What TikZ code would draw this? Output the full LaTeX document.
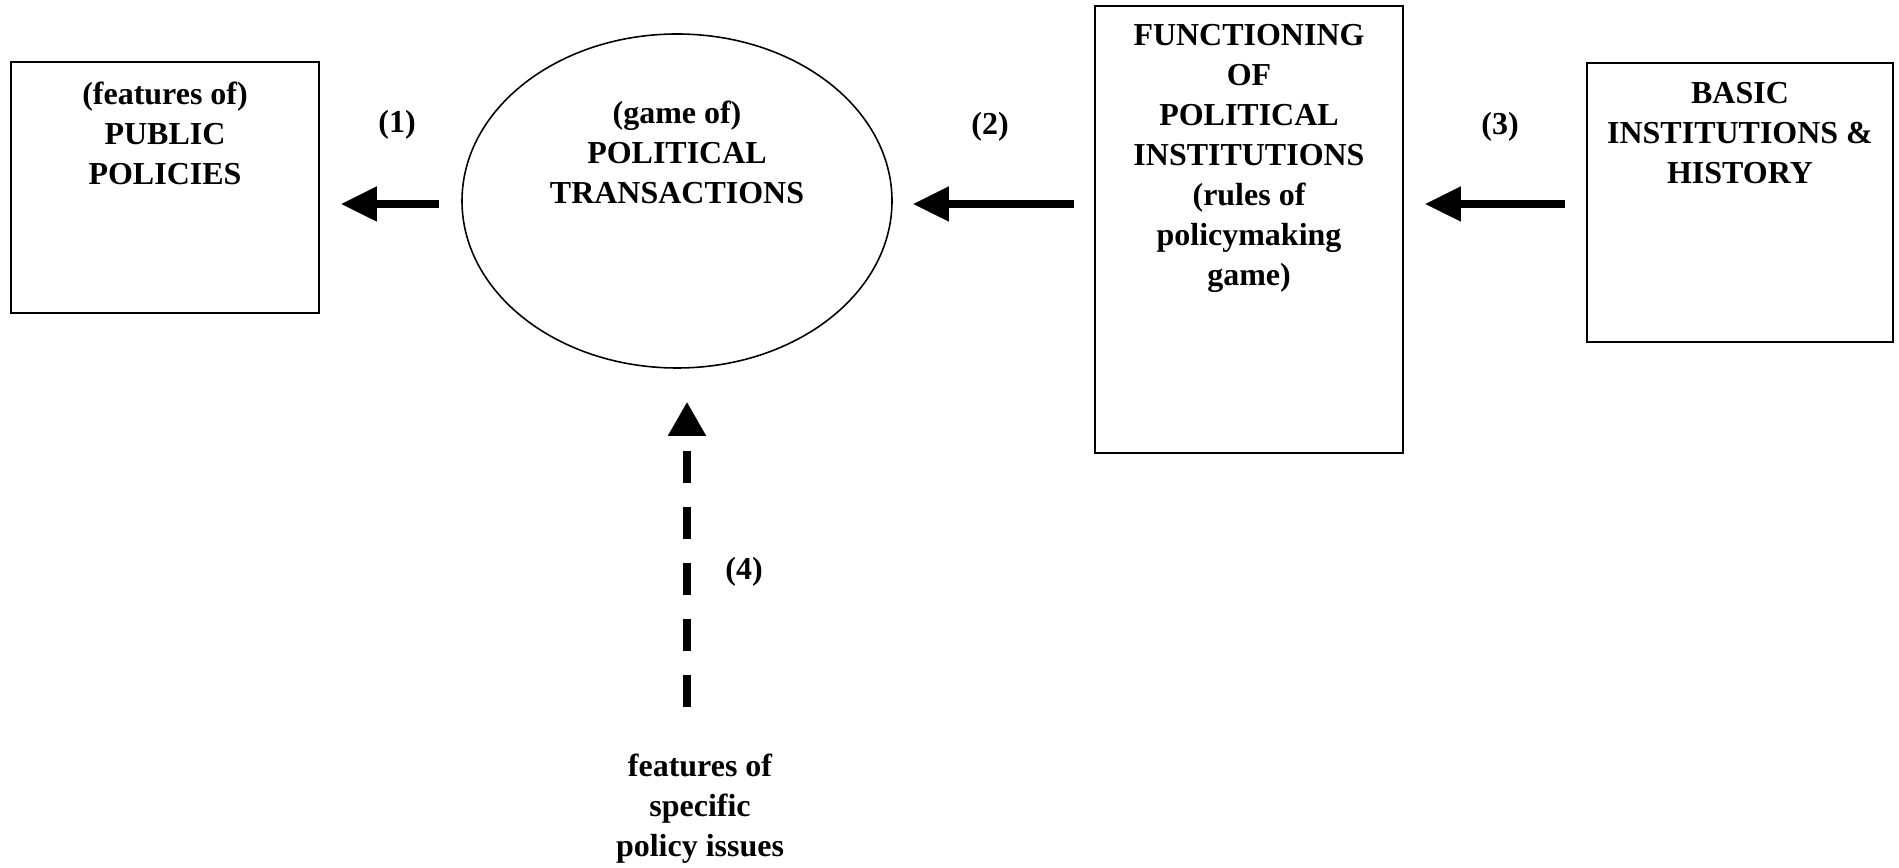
\documentclass[tikz,border=0pt]{standalone}
\usepackage{fontspec}
\setmainfont{Liberation Serif}
\usetikzlibrary{arrows.meta}
\usetikzlibrary{shapes.geometric}

\begin{document}
\begin{tikzpicture}[x=0.2mm,y=0.2mm,line cap=butt] %% tikz
	\tikzstyle{panel}=[rectangle,draw,line width=0.9pt,inner sep=0pt];
	\tikzstyle{oval}=[ellipse,draw,line width=0.9pt,inner sep=0pt,minimum width=8.6cm,minimum height=6.68cm];
	\tikzstyle{txt}=[align=center,font=\fontsize{18.2}{22.8}\selectfont\bfseries,inner sep=0pt];
	\tikzstyle{fat}=[line width=4.3pt,-{Triangle[length=0.72cm,width=0.66cm]}];
	\tikzstyle{broken}=[line width=4.5pt,dash pattern=on 0.64cm off 0.48cm,-{Triangle[length=0.68cm,width=0.72cm]}];
	\useasboundingbox (0,0) rectangle (1899,867);
	%% shapes
	\node[panel,minimum width=6.16cm,minimum height=5.02cm] (pub) at (165,679.5) {};
	\node[oval] (circ) at (677,666) {};
	\node[panel,minimum width=6.16cm,minimum height=8.94cm] (inst) at (1249,637.5) {};
	\node[panel,minimum width=6.12cm,minimum height=5.58cm] (hist) at (1740,664.5) {};
	%% texts
	\node[txt] (pubtxt) at (165,734) {(features of)\\PUBLIC\\POLICIES};
	\node[txt] (circtxt) at (677,715) {(game of)\\POLITICAL\\TRANSACTIONS};
	\node[txt] (insttxt) at (1249,708.5) {FUNCTIONING\\OF\\POLITICAL\\INSTITUTIONS\\(rules of\\policymaking\\game)};
	\node[txt] (histtxt) at (1740,734) {BASIC\\INSTITUTIONS \&\\HISTORY};
	\node[txt] (issues) at (700,58) {features of\\specific\\policy issues};
	\node[txt] (lab1) at (397,742) {(1)};
	\node[txt] (lab2) at (990,740) {(2)};
	\node[txt] (lab3) at (1500,740) {(3)};
	\node[txt] (lab4) at (744,295) {(4)};
	%% arrows
	\coordinate (lvl) at ([yshift=-0.06cm]circ.west);
	\draw[fat,shorten <=0.44cm,shorten >=0.42cm] (lvl) -- (pub.east |- lvl);
	\draw[fat,shorten <=0.4cm,shorten >=0.4cm] (inst.west |- lvl) -- (circ.east |- lvl);
	\draw[fat,shorten <=0.42cm,shorten >=0.42cm] (hist.west |- lvl) -- (inst.east |- lvl);
	\coordinate (foot) at (687,160);
	\draw[broken,shorten >=0.66cm] (foot) -- (foot |- circ.south);
\end{tikzpicture}
\end{document}
